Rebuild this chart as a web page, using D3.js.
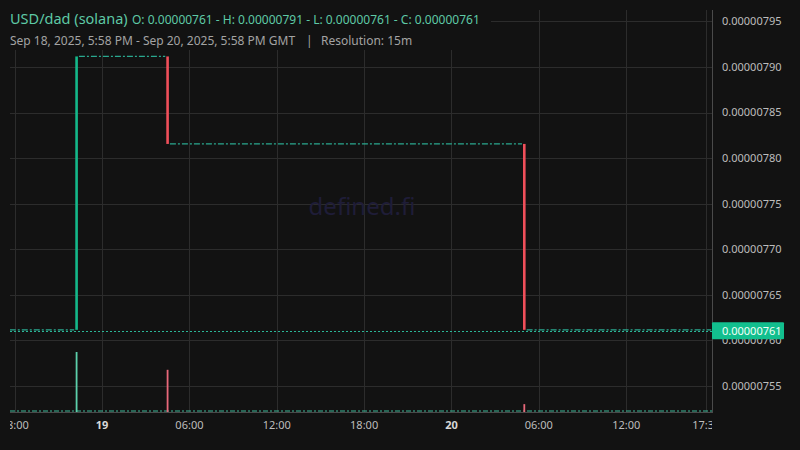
<!DOCTYPE html>
<html><head><meta charset="utf-8">
<script src="https://cdn.jsdelivr.net/npm/d3@7"></script>
<style>
html,body{margin:0;padding:0;background:#121212;}
svg{display:block;font-family:"Noto Sans","Open Sans",sans-serif;}
</style></head>
<body>
<svg id="c" width="800" height="450"></svg>
<script>
// ---- data ----
const pairTitle = "USD/dad (solana)";
const ohlcSummary = "O: 0.00000761 - H: 0.00000791 - L: 0.00000761 - C: 0.00000761";
const rangeText = "Sep 18, 2025, 5:58 PM - Sep 20, 2025, 5:58 PM GMT";
const resolutionText = "Resolution: 15m";
const lastPrice = 0.00000761;

// candles with price movement
const candleTimes = ["2025-09-18T22:15:00Z", "2025-09-19T04:30:00Z", "2025-09-20T05:00:00Z"];
const candleOpen  = [0.00000761, 0.00000791, 0.000007814];
const candleHigh  = [0.00000791, 0.00000791, 0.000007814];
const candleLow   = [0.00000761, 0.000007814, 0.00000761];
const candleClose = [0.00000791, 0.000007814, 0.00000761];
const candleVolume = [1450, 1020, 190];

// runs of flat (no-change) candles
const flatFrom  = ["2025-09-18T17:45:00Z", "2025-09-18T22:30:00Z", "2025-09-19T04:45:00Z", "2025-09-20T05:15:00Z"];
const flatTo    = ["2025-09-18T22:00:00Z", "2025-09-19T04:15:00Z", "2025-09-20T04:45:00Z", "2025-09-20T17:45:00Z"];
const flatPrice = [0.00000761, 0.00000791, 0.000007814, 0.00000761];

const priceTicks = [0.00000755, 0.00000760, 0.00000765, 0.00000770, 0.00000775, 0.00000780, 0.00000785, 0.00000790, 0.00000795];
const timeTicks = ["2025-09-18T18:00:00Z", "2025-09-19T00:00:00Z", "2025-09-19T06:00:00Z", "2025-09-19T12:00:00Z", "2025-09-19T18:00:00Z", "2025-09-20T00:00:00Z", "2025-09-20T06:00:00Z", "2025-09-20T12:00:00Z", "2025-09-20T17:30:00Z"];
const timeTickLabels = ["18:00", "19", "06:00", "12:00", "18:00", "20", "06:00", "12:00", "17:30"];
const timeTickBold = [false, true, false, false, false, true, false, false, false];

// ---- layout ----
const L = 10, R = 712, T = 10, B = 412;
const svg = d3.select("#c");
const up = "#14b88a", down = "#ef4f5a";
const upVol = "#5cd0ab", downVol = "#e8687a";

const x = d3.scaleUtc()
  .domain([new Date("2025-09-18T17:40:38Z"), new Date("2025-09-20T17:53:30Z")])
  .range([L, R]);
const y = d3.scaleLinear()
  .domain([0.0000075215, 0.0000079626])
  .range([B, T]);
const v = d3.scaleLinear().domain([0, d3.max(candleVolume)]).range([B, 352]);

svg.append("rect").attr("width", 800).attr("height", 450).attr("fill", "#121212");

const defs = svg.append("defs");
defs.append("clipPath").attr("id", "plot").append("rect")
  .attr("x", L).attr("y", T).attr("width", R - L).attr("height", B - T);
defs.append("clipPath").attr("id", "xlab").append("rect")
  .attr("x", L).attr("y", B).attr("width", R - L).attr("height", 38);

// grid
const grid = svg.append("g").attr("clip-path", "url(#plot)");
grid.selectAll("line.h").data(priceTicks).join("line")
  .attr("x1", L).attr("x2", R).attr("y1", d => Math.round(y(d)) + 0.5).attr("y2", d => Math.round(y(d)) + 0.5)
  .attr("stroke", "#2c2c2c").attr("stroke-width", 1);
grid.selectAll("line.v").data(timeTicks).join("line")
  .attr("x1", d => Math.round(x(new Date(d))) + 0.5).attr("x2", d => Math.round(x(new Date(d))) + 0.5)
  .attr("y1", T).attr("y2", B)
  .attr("stroke", "#2c2c2c").attr("stroke-width", 1);

// watermark
svg.append("text").attr("x", 362).attr("y", 215).attr("text-anchor", "middle")
  .attr("font-size", 24).attr("fill", "#1f1d38").text("defined.fi");

const plot = svg.append("g").attr("clip-path", "url(#plot)");

// volume baseline (tiny volumes of flat candles)
plot.append("line").attr("x1", L).attr("x2", R).attr("y1", B - 1).attr("y2", B - 1)
  .attr("stroke", "#3fb99a").attr("stroke-width", 1.2).attr("stroke-dasharray", "5,2,2,2");

// volume bars
plot.selectAll("rect.vol").data(candleTimes).join("rect")
  .attr("x", (d) => x(new Date(d)) - 0.9).attr("width", 1.8)
  .attr("y", (d, i) => v(candleVolume[i])).attr("height", (d, i) => B - v(candleVolume[i]))
  .attr("fill", (d, i) => candleClose[i] >= candleOpen[i] ? upVol : downVol);

// flat runs
plot.selectAll("line.flat").data(flatFrom).join("line")
  .attr("x1", d => x(new Date(d)) - 1.3).attr("x2", (d, i) => x(new Date(flatTo[i])) + 1.3)
  .attr("y1", (d, i) => y(flatPrice[i]) - 1.5).attr("y2", (d, i) => y(flatPrice[i]) - 1.5)
  .attr("stroke", "#2aa88f").attr("stroke-width", 1.2).attr("stroke-dasharray", "6,2,2,2");

// last price dotted line
plot.append("line").attr("x1", L).attr("x2", R).attr("y1", Math.round(y(lastPrice)) + 0.5).attr("y2", Math.round(y(lastPrice)) + 0.5)
  .attr("stroke", "#2bb596").attr("stroke-width", 1).attr("stroke-dasharray", "2,2");

// candles
plot.selectAll("rect.candle").data(candleTimes).join("rect")
  .attr("x", d => x(new Date(d)) - 1.3).attr("width", 2.6)
  .attr("y", (d, i) => y(candleHigh[i]) - 1.5)
  .attr("height", (d, i) => y(candleLow[i]) - y(candleHigh[i]))
  .attr("fill", (d, i) => candleClose[i] >= candleOpen[i] ? up : down);

// axes lines
svg.append("line").attr("x1", R + 0.5).attr("x2", R + 0.5).attr("y1", T).attr("y2", B)
  .attr("stroke", "#4a4a4a");
svg.append("line").attr("x1", L).attr("x2", R + 1).attr("y1", B + 0.5).attr("y2", B + 0.5)
  .attr("stroke", "#4a4a4a");

// price axis labels
svg.append("g").selectAll("text").data(priceTicks).join("text")
  .attr("x", 722).attr("y", d => y(d)).attr("dy", "0.35em")
  .attr("font-size", 11).attr("fill", "#bdbdbd")
  .text(d => d.toFixed(8));

// last price label
svg.append("rect").attr("x", R).attr("y", y(lastPrice) - 9).attr("width", 72).attr("height", 17)
  .attr("fill", "#12bf8e").attr("rx", 1);
svg.append("text").attr("x", 722).attr("y", y(lastPrice) - 0.5).attr("dy", "0.35em")
  .attr("font-size", 11).attr("fill", "#f2fff9").text(lastPrice.toFixed(8));

// time axis labels
svg.append("g").attr("clip-path", "url(#xlab)").selectAll("text").data(timeTicks).join("text")
  .attr("x", d => x(new Date(d))).attr("y", 425).attr("dy", "0.35em").attr("text-anchor", "middle")
  .attr("font-size", 11)
  .attr("font-weight", (d, i) => timeTickBold[i] ? "bold" : "normal")
  .attr("fill", (d, i) => timeTickBold[i] ? "#d8d8d8" : "#bdbdbd")
  .text((d, i) => timeTickLabels[i]);

// header
svg.append("rect").attr("x", 0).attr("y", 0).attr("width", 491).attr("height", 50).attr("fill", "#121212");
svg.append("text").attr("x", 10).attr("y", 24).attr("font-size", 14.5).attr("fill", "#5ec9a6").text(pairTitle);
svg.append("text").attr("x", 132).attr("y", 24).attr("font-size", 12).attr("fill", "#5ec9a6").text(ohlcSummary);
svg.append("text").attr("x", 10).attr("y", 45).attr("font-size", 12).attr("fill", "#a3a3a3").text(rangeText);
svg.append("text").attr("x", 306).attr("y", 45).attr("font-size", 12).attr("fill", "#a3a3a3").text("|");
svg.append("text").attr("x", 321).attr("y", 45).attr("font-size", 12).attr("fill", "#a3a3a3").text(resolutionText);
</script>
</body></html>
